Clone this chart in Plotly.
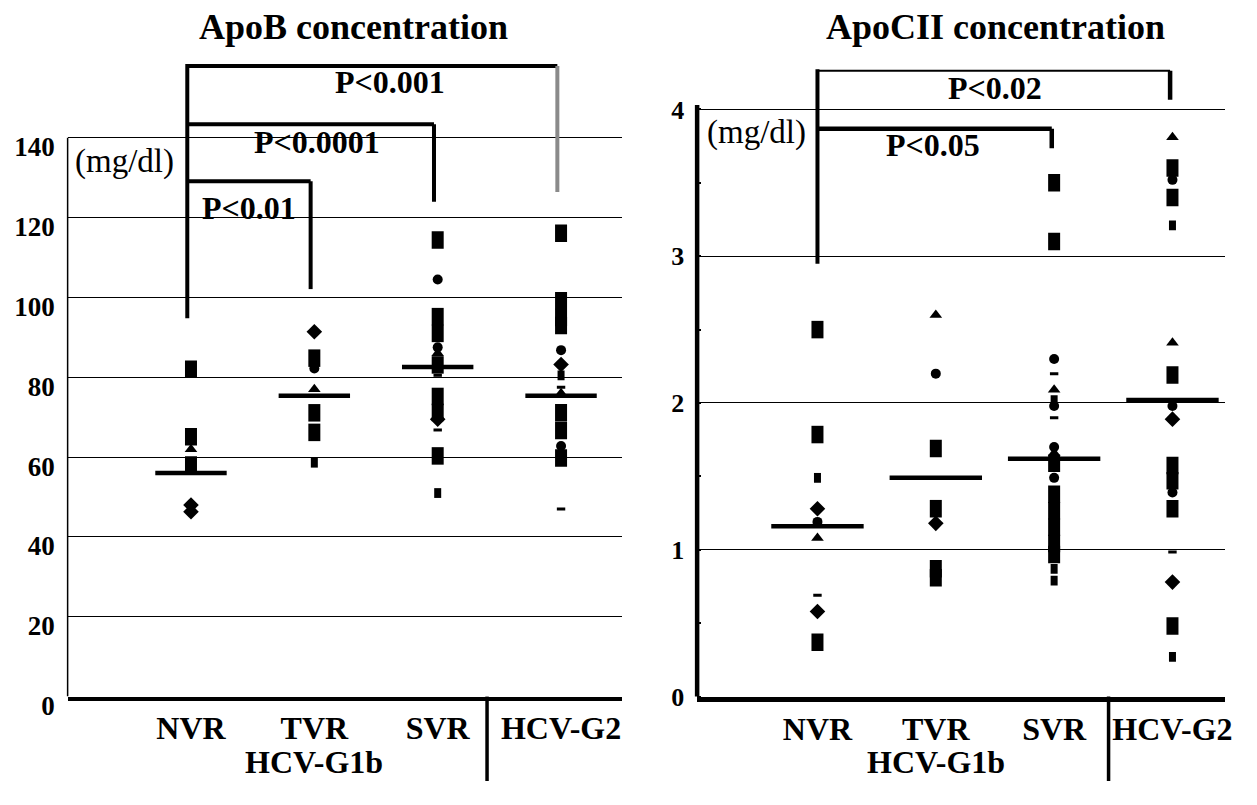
import plotly.graph_objects as go

# ---------------- data ----------------
CATEGORIES = ["NVR", "TVR", "SVR", "HCV-G2"]
GROUP_LABEL = "HCV-G1b"
UNIT_LABEL = "(mg/dl)"
TITLE_APOB = "ApoB concentration"
TITLE_APOCII = "ApoCII concentration"

APOB_TICKS = [0, 20, 40, 60, 80, 100, 120, 140]
APOCII_TICKS = [0, 1, 2, 3, 4]

# ApoB (mg/dl): one list per marker kind, ordered like CATEGORIES
APOB_SQUARE = [[82.0, 65.1, 58.0],
               [84.8, 71.1, 66.2],
               [114.4, 95.2, 91.0, 83.1, 75.2, 71.2, 60.3],
               [116.1, 99.2, 95.0, 93.0, 71.1, 66.7, 59.8]]
APOB_SMALL_SQUARE = [[], [58.6], [51.0], [80.5]]
APOB_CIRCLE = [[], [82.2], [104.5, 87.5], [86.8, 62.8]]
APOB_DIAMOND = [[48.0, 46.3], [91.4], [69.5], [83.2]]
APOB_TRIANGLE = [[62.0], [77.0], [86.0], [76.0]]
APOB_DASH = [[], [], [80.5, 66.8], [77.5, 47.0]]
APOB_MEAN = [56.0, 75.4, 82.6, 75.4]

# ApoCII (mg/dl)
APOCII_SQUARE = [[2.50, 1.785, 0.37],
                 [1.69, 1.28, 0.87, 0.81],
                 [3.50, 3.10, 1.59, 1.378, 1.266, 1.154, 1.042, 0.968],
                 [3.60, 3.40, 2.19, 1.575, 1.47, 1.28, 0.48]]
APOCII_SMALL_SQUARE = [[1.49], [], [2.02, 0.87, 0.79], [3.21, 0.27]]
APOCII_CIRCLE = [[1.19], [2.20], [2.30, 1.98, 1.70, 1.49], [3.52, 1.98, 1.39]]
APOCII_DIAMOND = [[1.28, 0.58], [1.18], [], [1.89, 0.78]]
APOCII_TRIANGLE = [[1.08], [2.60], [2.09, 1.66], [3.81, 2.41]]
APOCII_DASH = [[0.69], [], [2.20, 1.90], [0.985]]
APOCII_MEAN = [1.16, 1.49, 1.62, 2.02]

# significance brackets: (from, to, bracket height, right leg end, label)
APOB_BRACKETS = [("NVR", "HCV-G2", 158.0, 126.4, "P<0.001"),
                 ("NVR", "SVR", 143.4, 124.0, "P<0.0001"),
                 ("NVR", "TVR", 129.1, 102.1, "P<0.01")]
APOB_LEG_END = 94.8
APOCII_BRACKETS = [("NVR", "HCV-G2", 4.264, 4.066, "P<0.02"),
                   ("NVR", "SVR", 3.868, 3.736, "P<0.05")]
APOCII_LEG_END = 2.949

# ---------------- styling ----------------
SERIF = "Liberation Serif"
BLACK = "black"
pos = {c: i + 1 for i, c in enumerate(CATEGORIES)}

KINDS = {
    "square": dict(symbol="line-ns", size=12.5, line=dict(width=12, color=BLACK)),
    "small": dict(symbol="line-ns", size=7, line=dict(width=7, color=BLACK)),
    "circle": dict(symbol="circle", size=10, color=BLACK, line=dict(width=0)),
    "diamond": dict(symbol="diamond", size=12, color=BLACK, line=dict(width=0)),
    "triangle": dict(symbol="triangle-up", size=11, color=BLACK, line=dict(width=0)),
    "dash": dict(symbol="line-ew", size=6, line=dict(width=3, color=BLACK)),
}

fig = go.Figure()


def add_points(groups, kind, xa, ya):
    xs, ys = [], []
    for i, vals in enumerate(groups):
        for v in vals:
            xs.append(i + 1)
            ys.append(v)
    fig.add_trace(go.Scatter(x=xs, y=ys, mode="markers", marker=KINDS[kind],
                             xaxis=xa, yaxis=ya, showlegend=False, hoverinfo="skip"))


def add_means(means, size, xa, ya):
    fig.add_trace(go.Scatter(x=list(range(1, len(means) + 1)), y=means, mode="markers",
                             marker=dict(symbol="line-ew", size=size,
                                         line=dict(width=4.5, color=BLACK)),
                             xaxis=xa, yaxis=ya, showlegend=False, hoverinfo="skip"))


def add_line(xs, ys, xa, ya, width=4, color=BLACK):
    fig.add_trace(go.Scatter(x=xs, y=ys, mode="lines", line=dict(width=width, color=color),
                             xaxis=xa, yaxis=ya, showlegend=False, hoverinfo="skip"))


# left panel
for groups, kind in [(APOB_SQUARE, "square"), (APOB_SMALL_SQUARE, "small"),
                     (APOB_CIRCLE, "circle"), (APOB_DIAMOND, "diamond"),
                     (APOB_TRIANGLE, "triangle"), (APOB_DASH, "dash")]:
    add_points(groups, kind, "x", "y")
add_means(APOB_MEAN, 51, "x", "y")

off = -0.03
add_line([pos["NVR"] + off] * 2, [APOB_BRACKETS[0][2] + 0.5, APOB_LEG_END], "x", "y")
for a, b, h, end, _ in APOB_BRACKETS:
    add_line([pos[a] + off, pos[b] + off], [h, h], "x", "y")
    add_line([pos[b] + off] * 2, [h, end], "x", "y",
             color="#8a8a8a" if b == "HCV-G2" else BLACK)

# right panel
for groups, kind in [(APOCII_SQUARE, "square"), (APOCII_SMALL_SQUARE, "small"),
                     (APOCII_CIRCLE, "circle"), (APOCII_DIAMOND, "diamond"),
                     (APOCII_TRIANGLE, "triangle"), (APOCII_DASH, "dash")]:
    add_points(groups, kind, "x2", "y2")
add_means(APOCII_MEAN, 66, "x2", "y2")

add_line([pos["NVR"]] * 2, [APOCII_BRACKETS[0][2] + 0.01, APOCII_LEG_END], "x2", "y2")
for k, (a, b, h, end, _) in enumerate(APOCII_BRACKETS):
    add_line([pos[a], pos[b] - 0.02], [h, h], "x2", "y2", width=2 if k == 0 else 4.5)
    add_line([pos[b] - 0.02] * 2, [h, end], "x2", "y2", width=4.5)

# ---------------- layout ----------------
Y_DOM = [0.1081, 0.9257]
tick_bold = lambda s: dict(family=SERIF, size=s, color=BLACK, weight="bold")

fig.update_layout(
    width=1257, height=805, autosize=False,
    margin=dict(l=0, r=0, t=0, b=0),
    paper_bgcolor="white", plot_bgcolor="white",
    xaxis=dict(domain=[0.0541, 0.4972], range=[0, 4.49], anchor="y",
               tickvals=[1, 2, 3, 4], ticktext=CATEGORIES, showgrid=False, zeroline=False,
               showline=True, linewidth=4, linecolor=BLACK, ticks="",
               tickfont=tick_bold(32), ticklabelstandoff=0),
    yaxis=dict(domain=Y_DOM, range=[0, 160], anchor="x", tickvals=APOB_TICKS,
               showgrid=True, gridcolor=BLACK, gridwidth=1, zeroline=False,
               showline=False, ticks="", tickfont=tick_bold(27),
               ticklabelstandoff=12, ticklabelshift=9),
    xaxis2=dict(domain=[0.5577, 0.9801], range=[-0.017, 4.445], anchor="y2",
                tickvals=[1, 2, 3, 4], ticktext=CATEGORIES, showgrid=False, zeroline=False,
                showline=True, linewidth=4.5, linecolor=BLACK, ticks="",
                tickfont=tick_bold(32), ticklabelstandoff=0),
    yaxis2=dict(domain=Y_DOM, range=[0, 4.35], anchor="x2", tickvals=APOCII_TICKS,
                showgrid=True, gridcolor=BLACK, gridwidth=1, zeroline=False,
                showline=False, ticks="", tickfont=tick_bold(26), ticklabelstandoff=12,
                minor=dict(dtick=0.5, ticks="inside", ticklen=4, tickwidth=1.5,
                           tickcolor=BLACK, showgrid=False)),
)

# axis lines that stop at the top gridline
fig.add_shape(type="line", xref="x domain", yref="y", x0=0, x1=0, y0=0, y1=APOB_TICKS[-1],
              line=dict(color=BLACK, width=1.5))
fig.add_shape(type="line", xref="x2 domain", yref="y2", x0=0, x1=0, y0=-0.01,
              y1=APOCII_TICKS[-1] + 0.03, line=dict(color=BLACK, width=4.5))
# separators between genotype groups
fig.add_shape(type="line", xref="x", yref="paper", x0=3.40, x1=3.40, y0=0, y1=Y_DOM[0],
              line=dict(color=BLACK, width=3.5))
fig.add_shape(type="line", xref="x2", yref="paper", x0=3.46, x1=3.46, y0=0, y1=Y_DOM[0],
              line=dict(color=BLACK, width=3.5))

ann = []
bold = lambda s: dict(family=SERIF, size=s, color=BLACK, weight="bold")
for txt, xx in [(TITLE_APOB, 0.2824), (TITLE_APOCII, 0.7963)]:
    ann.append(dict(text=txt, xref="paper", yref="paper", x=xx, y=0.965,
                    xanchor="center", yanchor="middle", showarrow=False, font=bold(36)))
for xr in ["x", "x2"]:
    ann.append(dict(text=GROUP_LABEL, xref=xr, yref="paper", x=2, y=0.024,
                    xanchor="center", yanchor="middle", showarrow=False, font=bold(32)))
for xx, yy in [(0.0581, 0.7938), (0.564, 0.830)]:
    ann.append(dict(text=UNIT_LABEL, xref="paper", yref="paper", x=xx, y=yy,
                    xanchor="left", yanchor="middle", showarrow=False,
                    font=dict(family=SERIF, size=33, color=BLACK)))
# p-value labels
for (lbl_x, lbl_y), br in zip([(2.61, 153.9), (2.02, 139.0), (1.47, 122.5)], APOB_BRACKETS):
    ann.append(dict(text=br[4], xref="x", yref="y", x=lbl_x, y=lbl_y, showarrow=False,
                    xanchor="center", yanchor="middle", font=bold(32)))
for (lbl_x, lbl_y), br in zip([(2.50, 4.145), (1.975, 3.755)], APOCII_BRACKETS):
    ann.append(dict(text=br[4], xref="x2", yref="y2", x=lbl_x, y=lbl_y, showarrow=False,
                    xanchor="center", yanchor="middle", font=bold(32)))
fig.update_layout(annotations=ann)

fig.write_html(
    "out.html", config={"displayModeBar": False, "responsive": False},
    post_script=("document.documentElement.style.margin='0';"
                 "document.documentElement.style.overflow='hidden';"
                 "document.body.style.margin='0';document.body.style.overflow='hidden';"))
